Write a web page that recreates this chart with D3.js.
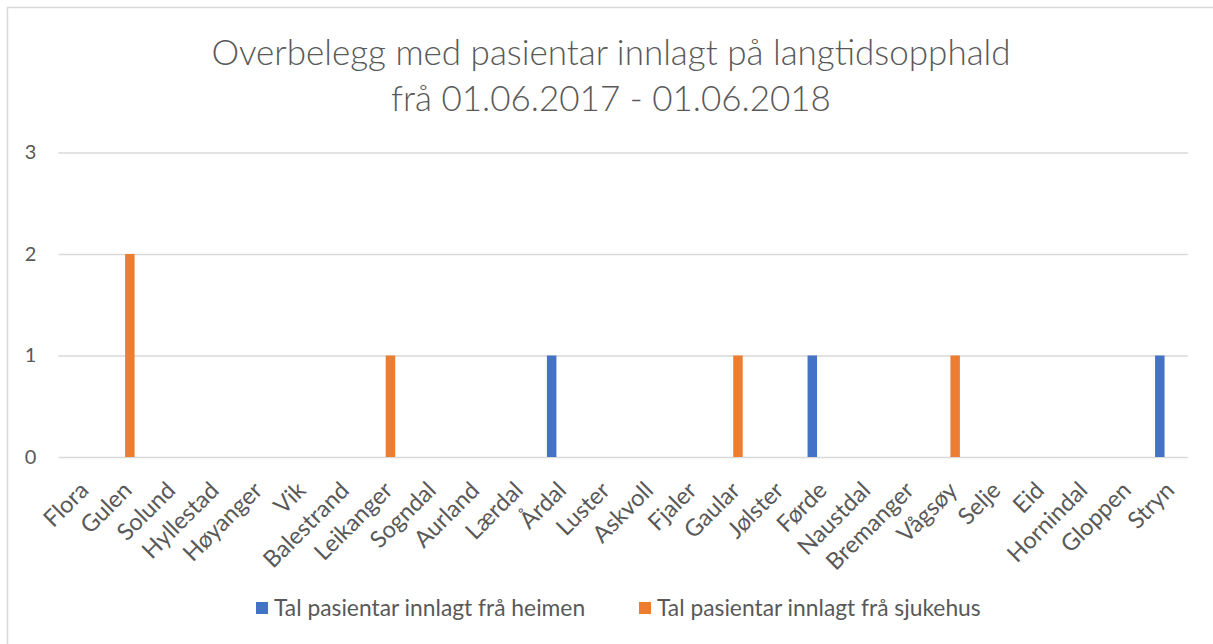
<!DOCTYPE html>
<html>
<head>
<meta charset="utf-8">
<script src="https://cdn.jsdelivr.net/npm/d3@7"></script>
<style>
  html, body { margin: 0; padding: 0; background: #fff; }
  svg { display: block; font-family: Lato, "Open Sans", sans-serif; }
</style>
</head>
<body>
<svg id="chart" width="1213" height="644"></svg>
<script>
const categories = ["Flora","Gulen","Solund","Hyllestad","Høyanger","Vik","Balestrand","Leikanger","Sogndal","Aurland","Lærdal","Årdal","Luster","Askvoll","Fjaler","Gaular","Jølster","Førde","Naustdal","Bremanger","Vågsøy","Selje","Eid","Hornindal","Gloppen","Stryn"];
const seriesNames = ["Tal pasientar innlagt frå heimen","Tal pasientar innlagt frå sjukehus"];
const heimen   = [0,0,0,0,0,0,0,0,0,0,0,1,0,0,0,0,0,1,0,0,0,0,0,0,0,1];
const sjukehus = [0,2,0,0,0,0,0,1,0,0,0,0,0,0,0,1,0,0,0,0,1,0,0,0,0,0];
const yTicks = [0,1,2,3];
const titleLines = ["Overbelegg med pasientar innlagt på langtidsopphald","frå 01.06.2017 - 01.06.2018"];
const colors = ["#4472C4","#ED7D31"];

const svg = d3.select("#chart");
const W = 1213, H = 644;
const plot = {left: 58.4, right: 1187.8, top: 152.5, bottom: 457};
const textColor = "#595959";
const gridColor = "#d9d9d9";

// outer chart border
svg.append("rect").attr("x", 7.5).attr("y", 7.5).attr("width", W).attr("height", H)
  .attr("fill", "#fff").attr("stroke", gridColor).attr("stroke-width", 1.5);

// title
const title = svg.append("text").attr("text-anchor", "middle").attr("fill", textColor)
  .attr("font-size", 35).attr("font-weight", 300);
titleLines.forEach((t, i) => {
  title.append("tspan").attr("x", 611).attr("y", 65 + i * 46).text(t);
});

const x0 = d3.scaleBand().domain(categories).range([plot.left, plot.right]).padding(0);
const bw = x0.bandwidth();
const x1 = d3.scaleBand().domain(seriesNames).range([bw / 2 - 11.02, bw / 2 + 11.02]).paddingInner(0.243).paddingOuter(0);
const y = d3.scaleLinear().domain([0, 3]).range([plot.bottom, plot.top]);

// gridlines
const grid = svg.append("g").attr("transform", `translate(${plot.left},0)`)
  .call(d3.axisLeft(y).tickValues(yTicks).tickSize(-(plot.right - plot.left)).tickFormat(""));
grid.select(".domain").remove();
grid.selectAll(".tick line").attr("stroke", gridColor).attr("stroke-width", 1.5);

// y labels
const yAx = svg.append("g").attr("transform", `translate(${plot.left},0)`)
  .call(d3.axisLeft(y).tickValues(yTicks).tickSize(0).tickPadding(22).tickFormat(d3.format("d")));
yAx.select(".domain").remove();
yAx.selectAll("text").attr("fill", textColor).attr("font-size", 20).attr("font-family", "Lato, sans-serif");

// bars
const data = categories.map((c, i) => ({cat: c, values: [heimen[i], sjukehus[i]]}));
const groups = svg.append("g").selectAll("g").data(data).join("g")
  .attr("transform", d => `translate(${x0(d.cat)},0)`);
groups.selectAll("rect").data(d => d.values.map((v, k) => ({key: seriesNames[k], v, k})))
  .join("rect")
  .attr("x", d => x1(d.key))
  .attr("width", x1.bandwidth())
  .attr("y", d => y(d.v))
  .attr("height", d => y(0) - y(d.v))
  .attr("fill", d => colors[d.k]);

// x labels
const xAx = svg.append("g").attr("transform", `translate(0,${plot.bottom})`)
  .call(d3.axisBottom(x0).tickSize(0).tickPadding(0));
xAx.select(".domain").remove();
xAx.selectAll(".tick text")
  .attr("fill", textColor).attr("font-size", 23.5).attr("font-family", "Lato, sans-serif")
  .attr("text-anchor", "end")
  .attr("transform", "translate(4,29) rotate(-45)")
  .attr("y", 0).attr("dy", "0.35em");

// legend
const legendX = [256, 639];
const lg = svg.append("g").selectAll("g").data(seriesNames).join("g")
  .attr("transform", (d, i) => `translate(${legendX[i]},608)`);
lg.append("rect").attr("x", 0).attr("y", -6).attr("width", 12).attr("height", 12)
  .attr("fill", (d, i) => colors[i]);
lg.append("text").attr("x", 18).attr("y", 0).attr("dy", "0.35em")
  .attr("fill", textColor).attr("font-size", 22.8).text(d => d);
</script>
</body>
</html>
